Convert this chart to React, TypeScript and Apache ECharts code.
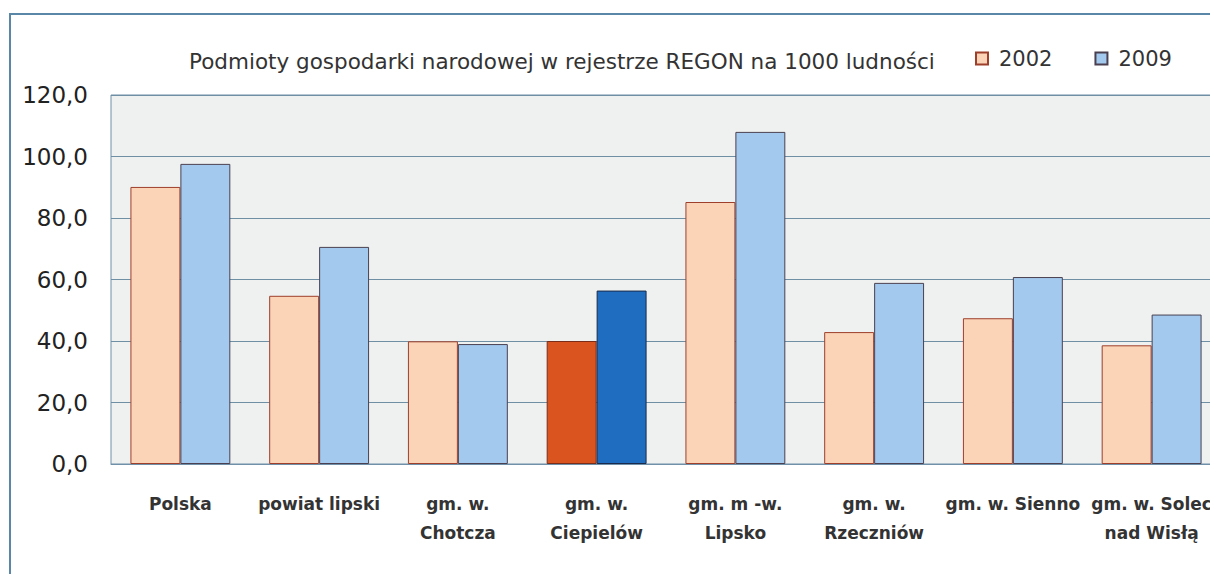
import React, { useEffect, useRef } from "react";
import * as echarts from "echarts";

const categories = [
  "Polska",
  "powiat lipski",
  "gm. w.\nChotcza",
  "gm. w.\nCiepielów",
  "gm. m -w.\nLipsko",
  "gm. w.\nRzeczniów",
  "gm. w. Sienno",
  "gm. w. Solec\nnad Wisłą",
];
const values2002 = [90.1, 54.7, 39.9, 40.0, 85.2, 42.9, 47.4, 38.6];
const values2009 = [97.6, 70.6, 39.0, 56.4, 108.0, 58.9, 60.8, 48.6];
const highlightIndex = 3;
const titleText = "Podmioty gospodarki narodowej w rejestrze REGON na 1000 ludności";
const seriesNames = ["2002", "2009"];

const FONT = "'DejaVu Sans', sans-serif";

export default function App() {
  const ref = useRef<HTMLDivElement>(null);
  useEffect(() => {
    if (!ref.current) return;
    const chart = echarts.init(ref.current, null, { renderer: "svg" });
    const c2002 = "#FBD3B6";
    const c2009 = "#A3C9EE";
    const b2002 = "#9E3F2C";
    const b2009 = "#4A4050";
    chart.setOption({
      animation: false,
      backgroundColor: "#ffffff",
      textStyle: { fontFamily: FONT },
      title: {
        text: titleText,
        left: 184,
        top: 45,
        textStyle: { fontFamily: FONT, fontSize: 21.5, fontWeight: "normal", color: "#333" },
      },
      legend: {
        left: 970,
        top: 43,
        icon: "rect",
        itemWidth: 12,
        itemHeight: 12,
        itemGap: 42,
        data: seriesNames,
        textStyle: { fontFamily: FONT, fontSize: 21, color: "#333", padding: [0, 0, 0, 6] },
      },
      grid: {
        left: 111,
        top: 95,
        width: 1110,
        height: 369,
        show: true,
        backgroundColor: "#EEF1F0",
        borderColor: "#6F90A8",
        borderWidth: 1,
      },
      xAxis: {
        type: "category",
        data: categories,
        axisTick: { show: false },
        axisLine: { show: true, lineStyle: { color: "#6F90A8", width: 1 } },
        axisLabel: {
          interval: 0,
          margin: 25,
          fontFamily: FONT,
          fontSize: 17,
          fontWeight: "bold",
          lineHeight: 29,
          color: "#333",
        },
      },
      yAxis: {
        type: "value",
        min: 0,
        max: 120,
        interval: 20,
        axisLine: { show: false },
        axisTick: { show: false },
        splitLine: { lineStyle: { color: "#6F8FA5", width: 1 } },
        axisLabel: {
          margin: 23,
          fontFamily: FONT,
          fontSize: 23,
          color: "#222",
          formatter: (v: number) => v.toFixed(1).replace(".", ","),
        },
      },
      series: [
        {
          name: seriesNames[0],
          type: "bar",
          barGap: "0%",
          barCategoryGap: "28%",
          itemStyle: { color: c2002, borderColor: b2002, borderWidth: 1 },
          data: values2002.map((v, i) =>
            i === highlightIndex ? { value: v, itemStyle: { color: "#DA5420", borderColor: "#7A2E1A" } } : v
          ),
        },
        {
          name: seriesNames[1],
          type: "bar",
          barGap: "0%",
          barCategoryGap: "28%",
          itemStyle: { color: c2009, borderColor: b2009, borderWidth: 1 },
          data: values2009.map((v, i) =>
            i === highlightIndex ? { value: v, itemStyle: { color: "#1F6DC0", borderColor: "#1A2A4A" } } : v
          ),
        },
      ],
      graphic: [
        {
          type: "rect",
          shape: { x: 10, y: 14, width: 1260, height: 700 },
          style: { fill: "none", stroke: "#5A86A8", lineWidth: 2 },
          silent: true,
        },
      ],
    });
    return () => chart.dispose();
  }, []);
  return (
    <div style={{ position: "fixed", left: 0, top: 0, width: 1210, height: 574, overflow: "hidden" }}>
      <div ref={ref} style={{ width: 1240, height: 574 }} />
    </div>
  );
}
